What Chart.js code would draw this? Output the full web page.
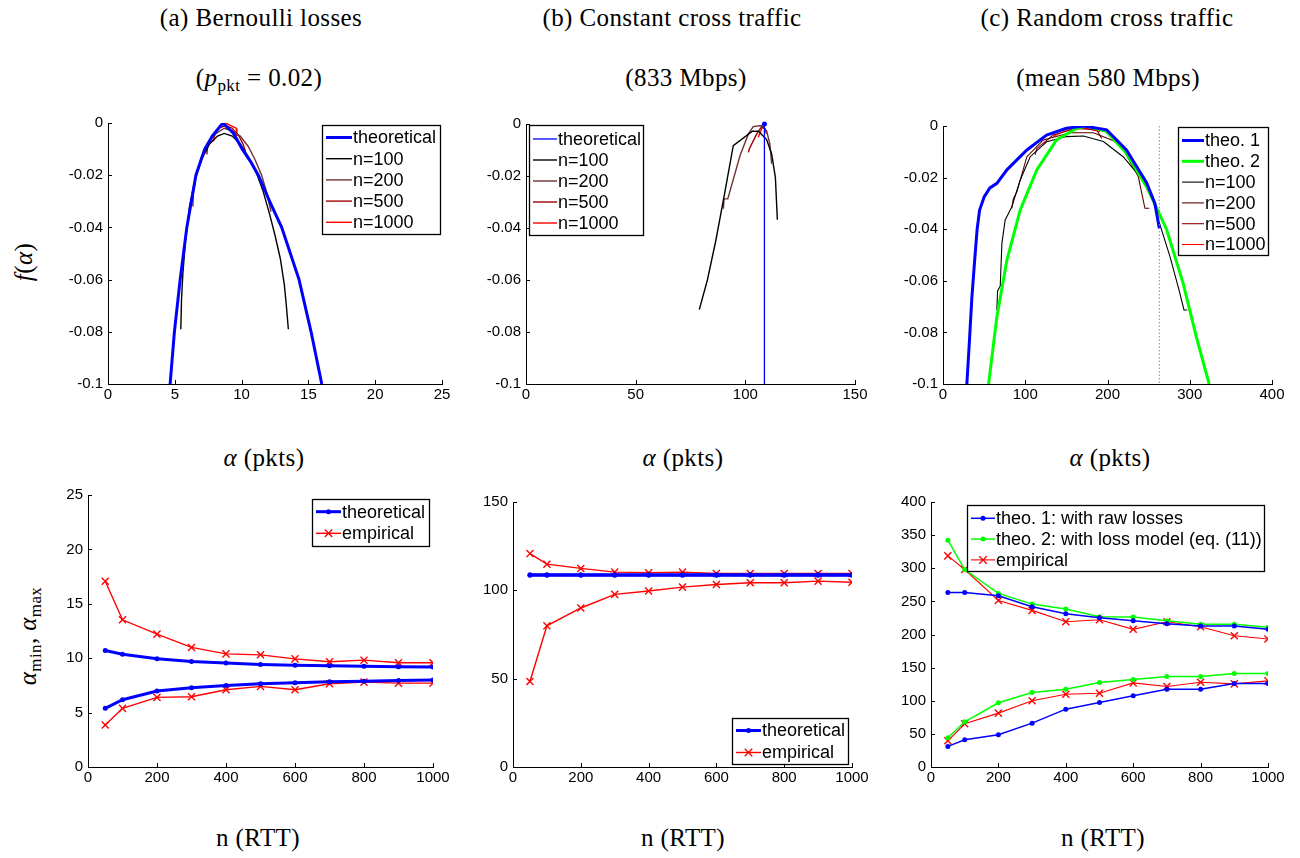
<!DOCTYPE html>
<html>
<head>
<meta charset="UTF-8">
<title>alpha estimates</title>
<script src="https://cdn.jsdelivr.net/npm/chart.js"></script>
<style>
  body { margin: 0; background: #fff; }
  #wrap { position: relative; width: 1300px; height: 858px; overflow: hidden; }
  canvas { position: absolute; }
  .t { position: absolute; transform: translate(-50%, -50%); font-family: "Liberation Serif", serif; font-size: 25px; white-space: nowrap; color: #000; letter-spacing: 0.4px; }
  .t i { font-style: italic; }
  .t sub { font-size: 17px; vertical-align: -5px; line-height: 0; }
  .rot { transform: translate(-50%, -50%) rotate(-90deg); }
</style>
</head>
<body>
<div id="wrap">
  <div class="t" style="left:261px;top:18px">(a) Bernoulli losses</div>
  <div class="t" style="left:672px;top:18px">(b) Constant cross traffic</div>
  <div class="t" style="left:1107px;top:18px">(c) Random cross traffic</div>
  <div class="t" style="left:259px;top:78px">(<i>p</i><sub>pkt</sub> = 0.02)</div>
  <div class="t" style="left:686px;top:78px">(833 Mbps)</div>
  <div class="t" style="left:1108px;top:78px">(mean 580 Mbps)</div>
  <div class="t" style="left:264px;top:458px"><i>α</i> (pkts)</div>
  <div class="t" style="left:683px;top:458px"><i>α</i> (pkts)</div>
  <div class="t" style="left:1110px;top:458px"><i>α</i> (pkts)</div>
  <div class="t" style="left:258px;top:838px">n (RTT)</div>
  <div class="t" style="left:683px;top:838px">n (RTT)</div>
  <div class="t" style="left:1103px;top:838px">n (RTT)</div>
  <div class="t rot" style="left:24px;top:262px"><i>f</i>(<i>α</i>)</div>
  <div class="t rot" style="left:28px;top:636px"><i>α</i><sub>min</sub>, <i>α</i><sub>max</sub></div>
  <canvas id="pa"></canvas>
  <canvas id="pb"></canvas>
  <canvas id="pc"></canvas>
  <canvas id="pd"></canvas>
  <canvas id="pe"></canvas>
  <canvas id="pf"></canvas>
</div>

<script>
// ---- (a) Bernoulli losses: f(alpha)
const aTheoX = [4.65, 4.97, 5.4, 5.9, 6.58, 7.24, 7.8, 8.6, 9.4, 10.05, 10.7, 11.25, 12.1, 13.0, 14.3, 15.2, 16.0];
const aTheoY = [-0.1, -0.08, -0.06, -0.04, -0.02, -0.01, -0.005, 0, -0.004, -0.01, -0.015, -0.02, -0.03, -0.04, -0.06, -0.08, -0.1];
const a100X = [5.45, 5.5, 5.6, 5.8, 6.1, 6.5, 7.0, 7.6, 8.2, 8.7, 9.3, 9.9, 10.5, 11.1, 11.6, 12.1, 12.5, 12.9, 13.2, 13.35, 13.5];
const a100Y = [-0.079, -0.068, -0.058, -0.045, -0.032, -0.022, -0.014, -0.008, -0.005, -0.004, -0.005, -0.008, -0.013, -0.019, -0.026, -0.035, -0.043, -0.052, -0.062, -0.07, -0.079];
const a200X = [6.35, 6.4, 6.6, 7.0, 7.5, 8.1, 8.7, 9.3, 9.9, 10.5, 11.0, 11.5, 11.9, 12.2];
const a200Y = [-0.032, -0.026, -0.02, -0.013, -0.008, -0.004, -0.002, -0.003, -0.005, -0.009, -0.014, -0.02, -0.027, -0.034];
const a500X = [7.4, 7.45, 7.8, 8.3, 8.8, 9.3, 9.8, 10.1, 10.3];
const a500Y = [-0.012, -0.009, -0.005, -0.002, -0.001, -0.002, -0.005, -0.008, -0.011];
const a1000X = [7.9, 8.0, 8.4, 8.8, 9.2, 9.6, 9.65];
const a1000Y = [-0.007, -0.004, -0.001, 0, -0.001, -0.002, -0.005];

// ---- (b) constant cross traffic
const bTheoX = [108.7, 108.7];
const bTheoY = [0, -0.1];
const b100X = [79.0, 82.7, 86.5, 90.5, 94.5, 103.2, 106, 109.7, 112, 113.7, 114.6];
const b100Y = [-0.0714, -0.060, -0.045, -0.027, -0.0083, -0.0028, -0.0028, -0.006, -0.0115, -0.0205, -0.0368];
const b200X = [90.0, 90.3, 92, 97.6, 101.4, 103.6, 107.4, 109.7, 111.2, 112];
const b200Y = [-0.0326, -0.0288, -0.0288, -0.0121, -0.0038, -0.001, -0.0006, -0.0026, -0.0077, -0.0153];
const b500X = [101.4, 101.8, 105.2, 107.4, 109, 109.7];
const b500Y = [-0.0109, -0.0096, -0.0038, -0.001, -0.0019, -0.0038];
const b1000X = [105.9, 107.4, 108.2, 109.3];
const b1000Y = [-0.0051, -0.0019, -0.0006, -0.0026];

// ---- (c) random cross traffic
const cTheo1X = [29, 32, 35, 38.5, 41.5, 44.5, 50, 57, 65.5, 77.7, 102, 126, 150, 171, 199, 223, 247.5, 257.6, 263];
const cTheo1Y = [-0.1, -0.084, -0.067, -0.052, -0.040, -0.0326, -0.0275, -0.024, -0.0222, -0.017, -0.0093, -0.0035, -0.0009, 0, -0.0015, -0.0093, -0.022, -0.030, -0.0397];
const cTheo2X = [55.4, 65.5, 77.7, 93.8, 114, 138, 162.6, 174.7, 199, 223, 247.5, 271.8, 292, 308, 323.6];
const cTheo2Y = [-0.1, -0.074, -0.052, -0.0326, -0.017, -0.0054, -0.0009, 0, -0.0022, -0.0106, -0.0235, -0.040, -0.061, -0.0817, -0.1];
const cMarkX = [263, 263];
const cMarkY = [0, -0.1];
const c100X = [65.5, 66.3, 69.6, 71.6, 75.6, 83.7, 93.8, 106, 126, 150, 170.7, 195, 219, 239.5, 254, 264.5, 276, 287, 293, 297];
const c100Y = [-0.0713, -0.064, -0.062, -0.0455, -0.0364, -0.0313, -0.021, -0.0119, -0.0061, -0.0041, -0.0039, -0.006, -0.0119, -0.0196, -0.0274, -0.039, -0.0506, -0.0636, -0.0713, -0.0713];
const c200X = [83.7, 85.5, 89.8, 102, 122, 154.5, 182.8, 215, 237.4, 245.5, 250.8];
const c200Y = [-0.0319, -0.0283, -0.0255, -0.0119, -0.0054, -0.0026, -0.0026, -0.0067, -0.0196, -0.0319, -0.0319];
const c500X = [112, 114, 134, 162.6, 187, 192.9];
const c500Y = [-0.0112, -0.0087, -0.0035, -0.0009, -0.0016, -0.0048];
const c1000X = [134, 150, 174.7, 191];
const c1000Y = [-0.0041, -0.0016, -0.0009, -0.0022];

// ---- bottom row: alpha_min / alpha_max vs n
const nRtt = [50, 100, 200, 300, 400, 500, 600, 700, 800, 900, 1000];
const dTheoMax = [10.71, 10.37, 9.94, 9.70, 9.55, 9.42, 9.36, 9.30, 9.27, 9.21, 9.18];
const dTheoMin = [5.39, 6.18, 6.98, 7.28, 7.50, 7.65, 7.74, 7.83, 7.89, 7.96, 7.99];
const dEmpMax = [17.08, 13.53, 12.21, 10.99, 10.40, 10.31, 9.94, 9.67, 9.82, 9.58, 9.58];
const dEmpMin = [3.86, 5.39, 6.40, 6.46, 7.10, 7.41, 7.10, 7.65, 7.80, 7.71, 7.71];

const eTheoMax = [108.8, 108.8, 108.8, 108.8, 108.8, 108.8, 108.8, 108.8, 108.8, 108.8, 108.8];
const eTheoMin = [108.6, 108.6, 108.6, 108.6, 108.6, 108.6, 108.6, 108.6, 108.6, 108.6, 108.6];
const eEmpMax = [120.8, 114.8, 112.4, 110.3, 110.0, 110.3, 109.5, 109.5, 109.5, 109.5, 109.5];
const eEmpMin = [48.4, 79.9, 90.0, 97.7, 99.6, 101.8, 103.3, 104.3, 104.3, 105.2, 104.6];

const fTheo1Max = [263.5, 263.5, 258.5, 241.9, 231.4, 225.3, 220.8, 216.3, 212.8, 212.8, 207.8];
const fTheo1Min = [31.1, 41.2, 48.7, 66.2, 87.3, 97.4, 107.4, 117.4, 117.4, 126, 126];
const fTheo2Max = [342.3, 298.1, 262, 245.9, 238.4, 226.9, 226.4, 220.8, 215.3, 215.3, 210.8];
const fTheo2Min = [44.2, 68.3, 96.9, 112.4, 117.4, 127.5, 132, 136.5, 136.5, 141, 141];
const fEmpMax = [318.7, 298.1, 251.4, 236.4, 219.3, 222.3, 207.8, 219.3, 211.8, 198.2, 193.2];
const fEmpMin = [39.6, 65.2, 81.3, 99.9, 109.9, 111.4, 127, 121.5, 128, 125.5, 130];

const PAD_T = 14, PAD_R = 30, YW = 62, XH = 30;
const tickFont = { family: 'Liberation Sans', size: 15 };
const legendFont = '18px "Liberation Sans"';

function pts(xs, ys) { return xs.map((x, i) => ({ x: x, y: ys[i] })); }

function line(label, xs, ys, color, width, extra) {
  return Object.assign({
    label: label, data: pts(xs, ys), borderColor: color, backgroundColor: color,
    borderWidth: width, pointRadius: 0, tension: 0, fill: false
  }, extra || {});
}
function dots(color) { return { pointRadius: 2.5, pointStyle: 'circle', pointBorderWidth: 0, pointBackgroundColor: color }; }
function crosses(color) { return { pointRadius: 5, pointStyle: 'crossRot', pointBorderColor: color, pointBorderWidth: 1.4 }; }

// inward tick marks, matlab style
const innerTicks = {
  id: 'innerTicks',
  afterDraw(chart) {
    const ctx = chart.ctx, a = chart.chartArea;
    ctx.save();
    ctx.strokeStyle = '#000';
    ctx.lineWidth = 1;
    chart.scales.x.ticks.forEach(t => {
      const px = Math.round(chart.scales.x.getPixelForValue(t.value)) + 0.5;
      ctx.beginPath(); ctx.moveTo(px, a.bottom); ctx.lineTo(px, a.bottom - 4); ctx.stroke();
    });
    chart.scales.y.ticks.forEach(t => {
      const py = Math.round(chart.scales.y.getPixelForValue(t.value)) + 0.5;
      ctx.beginPath(); ctx.moveTo(a.left, py); ctx.lineTo(a.left + 4, py); ctx.stroke();
    });
    ctx.restore();
  }
};

// boxed legend at a fixed place (page coordinates)
const boxLegend = {
  id: 'boxLegend',
  afterDraw(chart, args, o) {
    if (!o.rect) return;
    const ctx = chart.ctx;
    const x0 = o.rect[0] - chart.$left, y0 = o.rect[1] - chart.$top, w = o.rect[2], h = o.rect[3];
    ctx.save();
    ctx.fillStyle = '#fff';
    ctx.fillRect(x0, y0, w, h);
    ctx.strokeStyle = '#000';
    ctx.lineWidth = 1.3;
    ctx.strokeRect(Math.round(x0) + 0.5, Math.round(y0) + 0.5, w, h);
    ctx.font = legendFont;
    ctx.textBaseline = 'middle';
    o.items.forEach((di, i) => {
      const ds = chart.data.datasets[di];
      const y = y0 + o.first + i * o.gap;
      const lx = x0 + 4, rx = x0 + 4 + o.sample;
      ctx.strokeStyle = ds.borderColor;
      ctx.lineWidth = ds.borderWidth;
      ctx.beginPath(); ctx.moveTo(lx, y); ctx.lineTo(rx, y); ctx.stroke();
      if (ds.pointRadius > 0) {
        const mx = (lx + rx) / 2;
        if (ds.pointStyle === 'crossRot') {
          const r = ds.pointRadius * 0.75;
          ctx.lineWidth = ds.pointBorderWidth;
          ctx.beginPath();
          ctx.moveTo(mx - r, y - r); ctx.lineTo(mx + r, y + r);
          ctx.moveTo(mx - r, y + r); ctx.lineTo(mx + r, y - r);
          ctx.stroke();
        } else {
          ctx.fillStyle = ds.borderColor;
          ctx.beginPath(); ctx.arc(mx, y, ds.pointRadius, 0, Math.PI * 2); ctx.fill();
        }
      }
      ctx.fillStyle = '#000';
      ctx.fillText(ds.label, rx + 1, y + 1);
    });
    ctx.restore();
  }
};

function panel(id, area, xs, ys, datasets, legend) {
  const l = area[0], t = area[1], r = area[2], b = area[3];
  const cv = document.getElementById(id);
  const W = (r - l) + YW + PAD_R, H = (b - t) + PAD_T + XH;
  cv.width = W; cv.height = H;
  cv.style.width = W + 'px'; cv.style.height = H + 'px';
  cv.style.left = (l - YW) + 'px'; cv.style.top = (t - PAD_T) + 'px';
  const axis = (o, isX) => ({
    type: 'linear', min: o.min, max: o.max,
    grid: { display: false, drawTicks: false },
    border: { display: true, color: '#000', width: 1 },
    ticks: {
      stepSize: o.step, color: '#000', font: tickFont, padding: isX ? 2 : 5,
      autoSkip: false, maxRotation: 0,
      callback: v => String(+v.toFixed(3))
    },
    afterFit: s => { if (isX) s.height = XH; else s.width = YW; }
  });
  const ch = new Chart(cv, {
    type: 'line',
    data: { datasets: datasets },
    options: {
      responsive: false, animation: false,
      layout: { padding: { top: PAD_T, right: PAD_R, left: 0, bottom: 0 } },
      scales: { x: axis(xs, true), y: axis(ys, false) },
      plugins: { legend: { display: false }, tooltip: { enabled: false }, boxLegend: legend }
    },
    plugins: [innerTicks, boxLegend]
  });
  ch.$left = l - YW; ch.$top = t - PAD_T;
  ch.draw();
  return ch;
}

const BLUE = '#0000ff', GREEN = '#00ff00', RED = '#ff0000', BLACK = '#000000', BROWN = '#6e3232', DRED = '#a00000';

panel('pa', [108, 123, 442, 384], { min: 0, max: 25, step: 5 }, { min: -0.1, max: 0, step: 0.02 }, [
  line('theoretical', aTheoX, aTheoY, BLUE, 3),
  line('n=100', a100X, a100Y, BLACK, 1.4),
  line('n=200', a200X, a200Y, BROWN, 1.4),
  line('n=500', a500X, a500Y, DRED, 1.4),
  line('n=1000', a1000X, a1000Y, RED, 1.4)
], { rect: [322, 125, 118, 109], first: 12.5, gap: 21.2, sample: 26, items: [0, 1, 2, 3, 4] });

panel('pb', [526, 124, 855, 384], { min: 0, max: 150, step: 50 }, { min: -0.1, max: 0, step: 0.02 }, [
  line('theoretical', bTheoX, bTheoY, BLUE, 1.3, { pointRadius: [2.5, 0], pointBorderWidth: 0, pointBackgroundColor: BLUE, clip: 5 }),
  line('n=100', b100X, b100Y, BLACK, 1.4),
  line('n=200', b200X, b200Y, BROWN, 1.4),
  line('n=500', b500X, b500Y, DRED, 1.4),
  line('n=1000', b1000X, b1000Y, RED, 1.4)
], { rect: [529, 125, 114, 110], first: 14, gap: 21, sample: 24, items: [0, 1, 2, 3, 4] });

panel('pc', [943, 126, 1272, 384], { min: 0, max: 400, step: 100 }, { min: -0.1, max: 0, step: 0.02 }, [
  line('', cMarkX, cMarkY, '#7f7fff', 1, { borderDash: [1.5, 2] }),
  line('theo. 1', cTheo1X, cTheo1Y, BLUE, 3),
  line('theo. 2', cTheo2X, cTheo2Y, GREEN, 3),
  line('n=100', c100X, c100Y, BLACK, 1.1),
  line('n=200', c200X, c200Y, '#5a0000', 1.1),
  line('n=500', c500X, c500Y, '#8c0000', 1.1),
  line('n=1000', c1000X, c1000Y, RED, 1.1)
], { rect: [1178, 127, 90, 128], first: 13.5, gap: 20.8, sample: 22, items: [1, 2, 3, 4, 5, 6] });

panel('pd', [88, 495, 433, 767], { min: 0, max: 1000, step: 200 }, { min: 0, max: 25, step: 5 }, [
  line('theoretical', nRtt, dTheoMax, BLUE, 3, dots(BLUE)),
  line('theoretical', nRtt, dTheoMin, BLUE, 3, dots(BLUE)),
  line('empirical', nRtt, dEmpMax, RED, 1.4, crosses(RED)),
  line('empirical', nRtt, dEmpMin, RED, 1.4, crosses(RED))
], { rect: [312, 499, 117, 47], first: 12.7, gap: 21.6, sample: 25, items: [0, 2] });

panel('pe', [513, 502, 852, 767], { min: 0, max: 1000, step: 200 }, { min: 0, max: 150, step: 50 }, [
  line('theoretical', nRtt, eTheoMax, BLUE, 3, dots(BLUE)),
  line('theoretical', nRtt, eTheoMin, BLUE, 3, dots(BLUE)),
  line('empirical', nRtt, eEmpMax, RED, 1.4, crosses(RED)),
  line('empirical', nRtt, eEmpMin, RED, 1.4, crosses(RED))
], { rect: [732, 718, 116, 46], first: 12.5, gap: 22, sample: 25, items: [0, 2] });

panel('pf', [931, 502, 1268, 767], { min: 0, max: 1000, step: 200 }, { min: 0, max: 400, step: 50 }, [
  line('theo. 1: with raw losses', nRtt, fTheo1Max, BLUE, 1.5, dots(BLUE)),
  line('theo. 1: with raw losses', nRtt, fTheo1Min, BLUE, 1.5, dots(BLUE)),
  line('theo. 2: with loss model (eq. (11))', nRtt, fTheo2Max, GREEN, 1.5, dots(GREEN)),
  line('theo. 2: with loss model (eq. (11))', nRtt, fTheo2Min, GREEN, 1.5, dots(GREEN)),
  line('empirical', nRtt, fEmpMax, RED, 1.1, crosses(RED)),
  line('empirical', nRtt, fEmpMin, RED, 1.1, crosses(RED))
], { rect: [967, 505, 297, 66], first: 13.3, gap: 20.8, sample: 24, items: [0, 2, 4] });
</script>
</body>
</html>
